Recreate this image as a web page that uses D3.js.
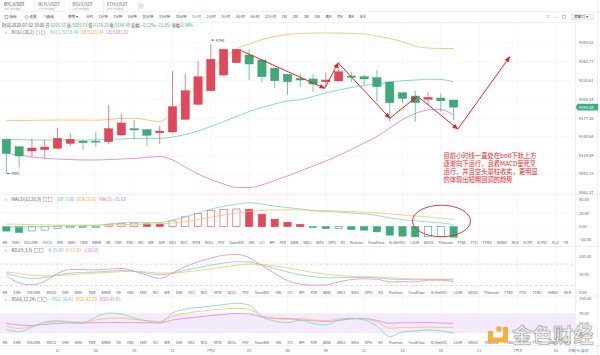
<!DOCTYPE html>
<html><head><meta charset="utf-8">
<script src="https://cdn.jsdelivr.net/npm/d3@7"></script>
<style>body{margin:0;background:#fff;}svg{display:block;}</style>
</head><body>
<svg id="c" width="600" height="355"></svg>
<script>
// ---------------- DATA ----------------
const times = ["2020-07-01 08:00","2020-07-01 09:00","2020-07-01 10:00","2020-07-01 11:00","2020-07-01 12:00","2020-07-01 13:00","2020-07-01 14:00","2020-07-01 15:00","2020-07-01 16:00","2020-07-01 17:00","2020-07-01 18:00","2020-07-01 19:00","2020-07-01 20:00","2020-07-01 21:00","2020-07-01 22:00","2020-07-01 23:00","2020-07-02 00:00","2020-07-02 01:00","2020-07-02 02:00","2020-07-02 03:00","2020-07-02 04:00","2020-07-02 05:00","2020-07-02 06:00","2020-07-02 07:00","2020-07-02 08:00","2020-07-02 09:00","2020-07-02 10:00","2020-07-02 11:00","2020-07-02 12:00","2020-07-02 13:00","2020-07-02 14:00","2020-07-02 15:00","2020-07-02 16:00","2020-07-02 17:00","2020-07-02 18:00","2020-07-02 19:00"];
const openP  = [9144.8,9133.4,9126.8,9128.8,9131.0,9138.6,9142.2,9142.0,9141.1,9151.5,9161.2,9159.7,9155.0,9156.1,9175.7,9198.9,9219.9,9244.1,9263.1,9275.0,9267.3,9254.5,9245.2,9239.0,9238.0,9233.8,9234.9,9242.6,9241.5,9240.0,9233.3,9216.8,9211.7,9206.6,9208.6,9205.53];
const highP  = [9146.0,9134.0,9146.4,9143.8,9162.7,9154.1,9143.0,9155.6,9197.8,9183.9,9174.6,9160.0,9165.4,9250.3,9246.8,9265.8,9291.6,9285.0,9284.5,9283.8,9268.0,9255.0,9246.0,9246.8,9245.2,9248.3,9260.6,9249.2,9244.6,9251.9,9234.0,9217.0,9219.9,9218.4,9215.9,9205.53];
const lowP   = [9092.0,9101.6,9117.0,9115.5,9130.0,9134.5,9128.3,9133.4,9137.1,9150.0,9145.3,9134.5,9137.6,9155.0,9175.0,9198.0,9219.0,9243.0,9263.0,9236.4,9232.2,9223.6,9213.3,9226.1,9218.4,9226.1,9234.0,9233.8,9228.7,9202.9,9172.0,9200.4,9172.0,9197.8,9187.4,9174.29];
const closeP = [9123.2,9119.0,9131.4,9132.9,9146.4,9144.8,9139.6,9140.5,9161.2,9170.0,9159.2,9151.0,9157.6,9195.2,9219.9,9241.5,9268.4,9283.8,9283.8,9261.1,9241.5,9235.3,9233.8,9236.4,9230.2,9236.4,9249.2,9240.6,9238.0,9226.1,9201.4,9208.1,9201.4,9209.7,9204.4,9194.48];
const bollUp  = [9173.6,9173.9,9174.2,9174.3,9174.6,9174.6,9174.6,9174.3,9175.4,9176.9,9177.3,9174.6,9172.3,9187.0,9207.1,9230.2,9248.8,9270.4,9284.3,9292.0,9299.0,9303.6,9306.7,9308.2,9309.0,9309.0,9309.0,9308.2,9307.5,9304.4,9300.5,9295.6,9288.5,9285.8,9285.1,9285.04];
const bollMid = [9144.8,9144.5,9143.7,9143.7,9143.7,9143.7,9143.7,9144.0,9144.8,9145.3,9146.1,9146.4,9146.4,9148.4,9152.2,9157.6,9164.6,9172.3,9180.0,9187.8,9194.0,9199.4,9204.0,9206.0,9211.0,9216.4,9221.0,9224.8,9228.0,9230.2,9233.3,9235.3,9236.4,9237.6,9237.2,9233.40];
const bollLow = [9123.2,9120.6,9117.5,9115.5,9114.4,9113.6,9112.9,9112.9,9113.6,9114.4,9115.2,9117.0,9118.3,9112.9,9102.0,9091.2,9082.7,9075.8,9070.4,9070.4,9074.3,9081.2,9088.3,9095.9,9103.6,9111.3,9119.8,9129.1,9139.1,9149.1,9162.2,9175.4,9184.7,9190.1,9190.8,9181.92];
const dif  = [0.65,-0.85,-0.25,0.1,1.15,1.5,1.7,1.95,4.15,5.6,6.2,6.0,6.3,9.85,14.85,20.4,26.35,30.4,33.75,35.9,33.85,30.8,28.65,26.65,23.9,22.65,22.05,20.5,19.2,16.9,12.95,10.6,8.55,6.95,5.65,3.08];
const dea  = [4.0,3.5,3.0,2.7,2.5,2.4,2.3,2.3,2.5,3.0,3.5,3.9,4.3,5.5,7.5,10.5,14.0,17.5,20.5,23.0,24.5,25.2,25.3,25.0,24.5,24.0,23.3,22.6,21.8,20.8,19.3,17.7,16.2,14.5,12.8,10.92];
const macd = [-6.7,-8.7,-6.5,-5.2,-2.7,-1.8,-1.2,-0.7,3.3,5.2,5.4,4.2,4.0,8.7,14.7,19.8,24.7,25.8,26.5,25.8,18.7,11.2,6.7,3.3,-1.2,-2.7,-2.5,-4.2,-5.2,-7.8,-12.7,-14.2,-15.3,-15.1,-14.3,-15.68];
const kdjK = [55,45,40,42,50,55,57,58,60,62,60,55,50,55,63,70,77,83,87,86,78,68,58,50,45,42,42,43,43,42,38,37,36,37,37,35.48];
const kdjD = [58,54,49,47,48,50,53,55,57,59,60,58,55,55,58,62,67,72,77,80,79,75,70,63,57,52,48,46,45,44,42,40,39,38,38,37.89];
const kdjJ = [49,27,22,32,54,65,65,64,66,68,60,49,40,55,73,86,97,105,107,98,76,54,34,24,21,22,30,37,39,38,30,31,30,35,35,30.65];
const rsi1 = [37.6,33.2,42.6,52.6,55.2,52.6,50.0,62.6,70.6,68.6,60.6,54.6,51.6,70.6,78.6,81.6,84.6,87.6,90.0,86.6,63.2,54.6,51.2,56.6,49.6,46.6,56.6,60.0,56.6,44.6,23.2,32.6,34.6,36.6,34.6,30.41];
const rsi2 = [44.6,39.6,44.6,50.6,53.2,52.6,52.6,56.6,60.0,60.6,57.6,55.6,53.6,64.6,70.0,73.6,76.6,78.6,80.0,78.0,64.6,60.0,57.6,59.6,56.6,55.6,58.6,59.6,58.6,52.6,40.0,41.6,41.6,42.6,41.6,42.20];
const rsi3 = [50.0,46.6,45.6,47.6,50.0,50.6,50.6,51.2,51.6,51.6,51.2,51.2,50.6,56.6,60.0,62.6,65.6,67.6,69.6,68.6,62.6,60.0,59.6,56.6,55.6,53.2,55.6,58.6,60.0,55.6,50.0,51.2,51.2,51.6,50.6,49.85];

const priceTicks = [9294.02,9264.77,9235.61,9206.54,9177.36,9148.68,9119.69,9091.15,9062.37];
const macdTicks = [40,20,0,-20];
const kdjTicks = [100,50,0];
const kdjDash = [80,20];
const rsiTicks = [100,70,50,30];
const rsiBand = [30,70];
const timeTicks = ["2020-07-01 12:00","2020-07-01 15:00","2020-07-01 18:00","2020-07-01 21:00","2020-07-02 00:00","2020-07-02 03:00","2020-07-02 06:00","2020-07-02 09:00","2020-07-02 12:00","2020-07-02 15:00","2020-07-02 18:00","2020-07-02 21:00","2020-07-03 00:00","2020-07-03 03:00"];
const timeLabels = ["12","15","18","21","7月2","03","06","09","12","15","18","21","7月3","03"];

const pairTabs = ["BTC/USDT","BCH/USDT","BSV/USDT","ETH/USDT"];
const periods = ["分时","1分钟","3分钟","5分钟","10分钟","15分钟","30分钟","1小时","2小时","3小时","4小时","6小时","12小时","1日","2日","3日","5日","周K","月K","季K","年K"];
const indicatorsA = ["MA","EMA","VOLUME","MACD","DMI","DMA","TRIX","BRAR","VR","OBV","EMV","RSI","WR","SAR","KDJ","ROC","MTM","BOLL","PSY","StochRSI","SMI","CCI","RPI","ATR","BBW","SKDJ","BIAS","DPO","AO","Position","FundFlow","AI-NetVOL","LSUR","BASIS","TVolume","FTBS","TTSI","TTMU","AHBSI","MLR","AI-PD","AI-PDI","AI-LI","FR"];
const indicatorsB = ["MA","EMA","VOLUME","MACD","DMI","DMA","TRIX","BRAR","VR","OBV","EMV","RSI","WR","SAR","KDJ","ROC","MTM","BOLL","PSY","StochRSI","SMI","CCI","RPI","ATR","BBW","SKDJ","BIAS","DPO","AO","Position","FundFlow","AI-NetVOL","LSUR","BASIS","TVolume","FTBS","TTSI","TTMU","AHBSI","MLR"];

const lowMark = {time:"2020-07-01 08:00", value:9092};
const highMark = {time:"2020-07-02 00:00", value:9298};
// annotation arrows: [hour offset from first candle, price]
const arrowPathA = [[18.28,9282.7],[24.93,9223.6],[25.97,9263.1],[30.02,9177.3],[32.1,9210.6]];
const arrowPathB = [[32.36,9208.6],[35.34,9160.7],[39.4,9272.4]];
const noteLines = ["目前小时线一直处在boll下轨上方","逐渐向下运行，且看MACD呈死叉","运行，并且空头量柱收实，更明显","的体现出短期回调的趋势"];

(function(){
// ---------------- SETUP ----------------
const parse = d3.timeParse("%Y-%m-%d %H:%M");
const T = times.map(parse);
const svg = d3.select("#c");
const FONT = '"Noto Sans CJK SC","Noto Sans",sans-serif';
svg.attr("font-family", FONT);
const RED="#e0485c", GREEN="#3fa97a", CUP="#f2c46d", CMID="#7fd2c4", CLOW="#df88d9";
const GRID="#f1f1f1", AXT="#666";

const x = d3.scaleTime().domain([d3.timeMinute.offset(T[0],-30), d3.timeMinute.offset(T[0],44*60+30)]).range([0,575]);
const xi = h => x(d3.timeMinute.offset(T[0], h*60));
const yP = d3.scaleLinear().domain([9062.37,9294.02]).range([192.7,42.7]);
const yM = d3.scaleLinear().domain([-20,40]).range([240,200]);
const yK = d3.scaleLinear().domain([0,100]).range([292.7,257]);
const yR = d3.scaleLinear().domain([0,100]).range([348.3,298.3]);

const defs = svg.append("defs");
defs.append("clipPath").attr("id","cm").append("rect").attr("x",0).attr("y",24).attr("width",575).attr("height",170);
defs.append("clipPath").attr("id","cp").append("rect").attr("x",0).attr("y",196).attr("width",575).attr("height",150);
defs.append("marker").attr("id","ah").attr("viewBox","0 0 10 10").attr("refX",9).attr("refY",5)
  .attr("markerWidth",6).attr("markerHeight",6).attr("orient","auto-start-reverse").attr("markerUnits","userSpaceOnUse")
  .append("path").attr("d","M0,1 L10,5 L0,9 z").attr("fill","#e0262a");

// ---------------- TOP UI ----------------
const topG = svg.append("g");
let tx = 2;
pairTabs.forEach((p,i)=>{
  topG.append("text").attr("x",tx+2).attr("y",6.2).attr("font-size",4.3).attr("fill", i===0?"#333":"#666").text(p);
  topG.append("text").attr("x",tx+2).attr("y",10).attr("font-size",2.6).attr("fill","#aaa").text("火币/市场数据");
  const w = 31;
  topG.append("line").attr("x1",tx+w+2).attr("x2",tx+w+2).attr("y1",1).attr("y2",11).attr("stroke","#e3e3e3").attr("stroke-width",0.6);
  tx += w+3.3;
});
topG.append("rect").attr("x",139).attr("y",4).attr("width",4).attr("height",4).attr("fill","none").attr("stroke","#bbb").attr("stroke-width",0.5);
topG.append("text").attr("x",141).attr("y",7.2).attr("font-size",3).attr("text-anchor","middle").attr("fill","#999").text("×");
topG.append("line").attr("x1",0).attr("x2",600).attr("y1",11.7).attr("y2",11.7).attr("stroke","#e6e6e6").attr("stroke-width",0.6);
topG.append("line").attr("x1",0).attr("x2",600).attr("y1",22.7).attr("y2",22.7).attr("stroke","#e6e6e6").attr("stroke-width",0.6);

// toolbar
const tb = topG.append("g").attr("font-size",3.6).attr("fill","#444");
tb.append("rect").attr("x",5).attr("y",15.3).attr("width",3).attr("height",3).attr("fill","none").attr("stroke","#555").attr("stroke-width",0.4);
tb.append("text").attr("x",9.5).attr("y",18.4).text("指标");
tb.append("circle").attr("cx",26.5).attr("cy",16.9).attr("r",1.5).attr("fill","none").attr("stroke","#555").attr("stroke-width",0.4);
tb.append("text").attr("x",29.5).attr("y",18.4).text("设置");
tb.append("text").attr("x",43.5).attr("y",18.4).text("✎画线");
tb.append("text").attr("x",68).attr("y",18.4).text("周期 ▾");
let px = 86;
periods.forEach(p=>{
  const t = tb.append("text").attr("x",px).attr("y",18.4).attr("fill", p==="1小时"?"#2f7de1":"#444").text(p);
  px += t.node().getComputedTextLength() + 5.4;
});
tb.append("text").attr("x",546).attr("y",18.4).attr("fill","#777").text("⇆");
tb.append("text").attr("x",555).attr("y",18.4).attr("fill","#777").text("⛶");
tb.append("rect").attr("x",562.5).attr("y",15.5).attr("width",3).attr("height",3).attr("fill","none").attr("stroke","#777").attr("stroke-width",0.4);
tb.append("rect").attr("x",571.5).attr("y",14.2).attr("width",22).attr("height",5.6).attr("fill","#f7f7f7").attr("stroke","#ccc").attr("stroke-width",0.4);
tb.append("text").attr("x",574).attr("y",18.4).attr("fill","#444").text("原窗口 ▾");

// info row
const last = times.length-1;
const fmt2 = d3.format(".2f");
const chg = closeP[last]-openP[last];
const info = topG.append("text").attr("x",2).attr("y",26.5).attr("font-size",4.2).attr("fill","#555");
const seg = (lab,val,col)=>{info.append("tspan").text(lab); info.append("tspan").attr("fill",col).text(val+" ");};
seg("时间:","2020-07-02 19:00","#555");
seg("开:",fmt2(openP[last]),GREEN);
seg("高:",fmt2(highP[last]),GREEN);
seg("低:",fmt2(lowP[last]),GREEN);
seg("收:",fmt2(closeP[last]),GREEN);
seg("涨幅:",fmt2(chg/openP[last]*100)+"%("+fmt2(chg)+")",GREEN);
seg("振幅:",fmt2((highP[last]-lowP[last])/openP[last]*100)+"%",GREEN);

function header(yy, name, parts){
  const g = svg.append("g").attr("font-size",4.4);
  g.append("text").attr("x",4).attr("y",yy).attr("fill","#666").attr("font-size",3.6).text("∨");
  const t = g.append("text").attr("x",11.5).attr("y",yy).attr("fill","#555").text(name);
  let hx = 11.5 + t.node().getComputedTextLength() + 2.2;
  [0,1].forEach(()=>{
    g.append("rect").attr("x",hx).attr("y",yy-3.4).attr("width",3.6).attr("height",3.6).attr("fill","#fff").attr("stroke","#888").attr("stroke-width",0.4);
    hx += 5;
  });
  hx += 4;
  parts.forEach(([txt,col])=>{
    const p = g.append("text").attr("x",hx).attr("y",yy).attr("fill",col).text(txt);
    hx += p.node().getComputedTextLength() + 2.5;
  });
}
header(34.3,"BOLL(20,2)",[["BOLL:"+fmt2(bollMid[last]),"#5fc2b2"],["UB:"+fmt2(bollUp[last]),"#eaa93a"],["LB:"+fmt2(bollLow[last]),"#d56ed0"]]);

// ---------------- GRID ----------------
const grid = svg.append("g").attr("stroke",GRID).attr("stroke-width",0.6);
grid.selectAll(".vg").data(timeTicks).join("line").attr("x1",d=>x(parse(d))).attr("x2",d=>x(parse(d))).attr("y1",23).attr("y2",345);
grid.selectAll(".hp").data(priceTicks).join("line").attr("x1",0).attr("x2",575).attr("y1",d=>yP(d)).attr("y2",d=>yP(d));
const gridM = svg.append("g").attr("stroke",GRID).attr("stroke-width",0.6);
gridM.selectAll("line").data(macdTicks).join("line").attr("x1",0).attr("x2",575).attr("y1",d=>yM(d)).attr("y2",d=>yM(d));
const sep = svg.append("g").attr("stroke","#e4e4e4").attr("stroke-width",0.6);
[194.5,246.5,296,345.5].forEach(v=>sep.append("line").attr("x1",0).attr("x2",600).attr("y1",v).attr("y2",v));
sep.append("line").attr("x1",575.5).attr("x2",575.5).attr("y1",23).attr("y2",355);
sep.append("line").attr("x1",597.5).attr("x2",597.5).attr("y1",0).attr("y2",355);

svg.append("rect").attr("x",0).attr("width",575).attr("y",yR(rsiBand[1])).attr("height",yR(rsiBand[0])-yR(rsiBand[1])).attr("fill","#f1e6fb").attr("opacity",0.85);
svg.append("g").selectAll("line").data(kdjDash).join("line").attr("x1",0).attr("x2",575).attr("y1",d=>yK(d)).attr("y2",d=>yK(d))
  .attr("stroke","#c8c8c8").attr("stroke-width",0.6).attr("stroke-dasharray","3,2");

// ---------------- MAIN CANDLES ----------------
const main = svg.append("g").attr("clip-path","url(#cm)");
const idx = d3.range(times.length);
const line = (arr, ys) => d3.line().x((d,i)=>x(T[i])).y(d=>ys(d)).curve(d3.curveMonotoneX)(arr);
main.append("path").attr("d",line(bollUp,yP)).attr("fill","none").attr("stroke",CUP).attr("stroke-width",0.9);
main.append("path").attr("d",line(bollMid,yP)).attr("fill","none").attr("stroke",CMID).attr("stroke-width",0.9);
main.append("path").attr("d",line(bollLow,yP)).attr("fill","none").attr("stroke",CLOW).attr("stroke-width",0.9);
const bw = (x(T[1])-x(T[0]))*0.65;
const cg = main.append("g");
cg.selectAll("line").data(idx).join("line")
  .attr("x1",i=>x(T[i])).attr("x2",i=>x(T[i])).attr("y1",i=>yP(highP[i])).attr("y2",i=>yP(lowP[i]))
  .attr("stroke",i=>closeP[i]>=openP[i]?RED:GREEN).attr("stroke-width",0.8).attr("opacity",0.85);
cg.selectAll("rect").data(idx).join("rect")
  .attr("x",i=>x(T[i])-bw/2).attr("width",bw)
  .attr("y",i=>yP(Math.max(openP[i],closeP[i])))
  .attr("height",i=>Math.max(1,Math.abs(yP(openP[i])-yP(closeP[i]))))
  .attr("fill",i=>closeP[i]>=openP[i]?RED:GREEN)
  .attr("stroke",i=>closeP[i]>=openP[i]?"#d13a50":"#34986b").attr("stroke-width",0.4);

function mark(m){
  const mx = x(parse(m.time)), my = yP(m.value);
  svg.append("line").attr("x1",mx+0.6).attr("x2",mx+4).attr("y1",my).attr("y2",my).attr("stroke","#333").attr("stroke-width",0.4);
  svg.append("path").attr("d",`M${mx+0.6},${my} l1.4,-0.9 l0,1.8 z`).attr("fill","#333");
  svg.append("text").attr("x",mx+5).attr("y",my+1.4).attr("font-size",3.8).attr("fill","#444").text(m.value);
}
mark(lowMark); mark(highMark);

// ---------------- PRICE AXIS ----------------
const ax = svg.append("g").attr("font-size",4).attr("fill",AXT);
ax.append("g").selectAll("text").data(priceTicks).join("text").attr("x",579).attr("y",d=>yP(d)+1.4).text(d=>fmt2(d));
const cy = yP(closeP[last]);
svg.append("path").attr("d",`M575.5,${cy} l2.2,-3.4 h20.3 v6.8 h-20.3 z`).attr("fill","#3fae7f");
svg.append("text").attr("x",579).attr("y",cy+1.4).attr("font-size",4).attr("fill","#fff").text(fmt2(closeP[last]));

// ---------------- MACD ----------------
const mg = svg.append("g").attr("clip-path","url(#cp)");
const mbw = bw*0.92;
mg.selectAll("rect").data(idx).join("rect")
  .attr("x",i=>x(T[i])-mbw/2+0.2).attr("width",mbw-0.4)
  .attr("y",i=>macd[i]>=0?yM(macd[i]):yM(0))
  .attr("height",i=>Math.max(0.8,Math.abs(yM(macd[i])-yM(0))))
  .attr("fill",i=>{const hollow = i>0 && macd[i]>macd[i-1]; return hollow?"#fff":(macd[i]>=0?RED:GREEN);})
  .attr("stroke",i=>macd[i]>=0?RED:GREEN).attr("stroke-width",0.6);
mg.append("path").attr("d",line(dif,yM)).attr("fill","none").attr("stroke",CMID).attr("stroke-width",0.8);
mg.append("path").attr("d",line(dea,yM)).attr("fill","none").attr("stroke",CUP).attr("stroke-width",0.8);
ax.append("g").selectAll("text").data(macdTicks).join("text").attr("x",579).attr("y",d=>yM(d)+1.4).text(d=>fmt2(d));
header(201,"MACD(12,26,9)",[["DIF:"+fmt2(dif[last]),"#5fc2b2"],["DEA:"+fmt2(dea[last]),"#eaa93a"],["MACD:"+fmt2(macd[last]),"#d56ed0"]]);

// ---------------- KDJ ----------------
const kg = svg.append("g").attr("clip-path","url(#cp)");
kg.append("path").attr("d",line(kdjK,yK)).attr("fill","none").attr("stroke",CMID).attr("stroke-width",0.8);
kg.append("path").attr("d",line(kdjD,yK)).attr("fill","none").attr("stroke",CUP).attr("stroke-width",0.8);
kg.append("path").attr("d",line(kdjJ,yK)).attr("fill","none").attr("stroke",CLOW).attr("stroke-width",0.8);
ax.append("g").selectAll("text").data(kdjTicks).join("text").attr("x",579).attr("y",d=>yK(d)+1.4).text(d=>fmt2(d));
header(252,"KDJ(9,3,3)",[["K:"+fmt2(kdjK[last]),"#5fc2b2"],["D:"+fmt2(kdjD[last]),"#eaa93a"],["J:"+fmt2(kdjJ[last]),"#d56ed0"]]);

// ---------------- RSI ----------------
const rg = svg.append("g").attr("clip-path","url(#cp)");
rg.append("path").attr("d",line(rsi3,yR)).attr("fill","none").attr("stroke",CLOW).attr("stroke-width",0.8);
rg.append("path").attr("d",line(rsi2,yR)).attr("fill","none").attr("stroke",CUP).attr("stroke-width",0.8);
rg.append("path").attr("d",line(rsi1,yR)).attr("fill","none").attr("stroke",CMID).attr("stroke-width",0.8);
ax.append("g").selectAll("text").data(rsiTicks).join("text").attr("x",579).attr("y",d=>yR(d)+1.4).text(d=>fmt2(d));
header(301,"RSI(6,12,24)",[["RSI1:"+fmt2(rsi1[last]),"#5fc2b2"],["RSI2:"+fmt2(rsi2[last]),"#eaa93a"],["RSI3:"+fmt2(rsi3[last]),"#d56ed0"]]);

// ---------------- INDICATOR TAB ROWS ----------------
function tabRow(yy, list, active, x0, x1){
  const g = svg.append("g").attr("font-size",3.5);
  const ts = list.map(n=>g.append("text").attr("y",yy).attr("fill",n===active?"#2f7de1":"#555").text(n));
  const widths = ts.map(t=>t.node().getComputedTextLength());
  const gap = (x1-x0-d3.sum(widths))/(list.length-1);
  let cx = x0;
  ts.forEach((t,i)=>{t.attr("x",cx); cx += widths[i]+gap;});
}
tabRow(244.3, indicatorsA, "MACD", 2.5, 568);
tabRow(294.0, indicatorsB, "KDJ", 2.5, 571);
tabRow(343.5, indicatorsB, "RSI", 2.5, 571);

svg.append("g").attr("font-size",3.8).attr("fill",AXT).selectAll("text").data(timeTicks).join("text")
  .attr("x",d=>x(parse(d))).attr("y",351.8).attr("text-anchor","middle").text((d,i)=>timeLabels[i]);

// ---------------- ANNOTATIONS ----------------
const ann = svg.append("g");
function arrowPath(pts){
  for(let k=0;k<pts.length-1;k++){
    ann.append("line").attr("x1",xi(pts[k][0])).attr("y1",yP(pts[k][1])).attr("x2",xi(pts[k+1][0])).attr("y2",yP(pts[k+1][1]))
      .attr("stroke","#e0262a").attr("stroke-width",1).attr("marker-end","url(#ah)");
  }
}
arrowPath(arrowPathA); arrowPath(arrowPathB);
ann.append("ellipse").attr("cx",xi(34.06)).attr("cy",yM(8.5)).attr("rx",29).attr("ry",15.8)
  .attr("fill","none").attr("stroke","#d42228").attr("stroke-width",0.9);
const nt = ann.append("g").attr("font-size",6.3).attr("fill","#e0262a");
noteLines.forEach((s,i)=>nt.append("text").attr("x",xi(34.2)).attr("y",yP(9119)+2 + i*8.1).text(s));

// ---------------- WATERMARK ----------------
const wm = svg.append("g").attr("opacity",0.9);
wm.append("path").attr("d","M488,331 h5 v6.5 h10 v-10.5 h5 v15.5 h-20 z").attr("fill","#f4a92a");
wm.append("rect").attr("x",496.5).attr("y",326.5).attr("width",5).attr("height",5).attr("fill","#f4a92a");
wm.append("text").attr("x",512).attr("y",343).attr("font-size",20).attr("font-weight","bold").attr("fill","#ececec").attr("fill-opacity",0.75)
  .attr("stroke","#8f8f8f").attr("stroke-width",0.6).attr("letter-spacing",0.5).text("金色财经");
svg.append("text").attr("x",568).attr("y",351.8).attr("font-size",3.8).attr("fill","#2f7de1").text("对数   %   自动");
})();
</script>
</body></html>
